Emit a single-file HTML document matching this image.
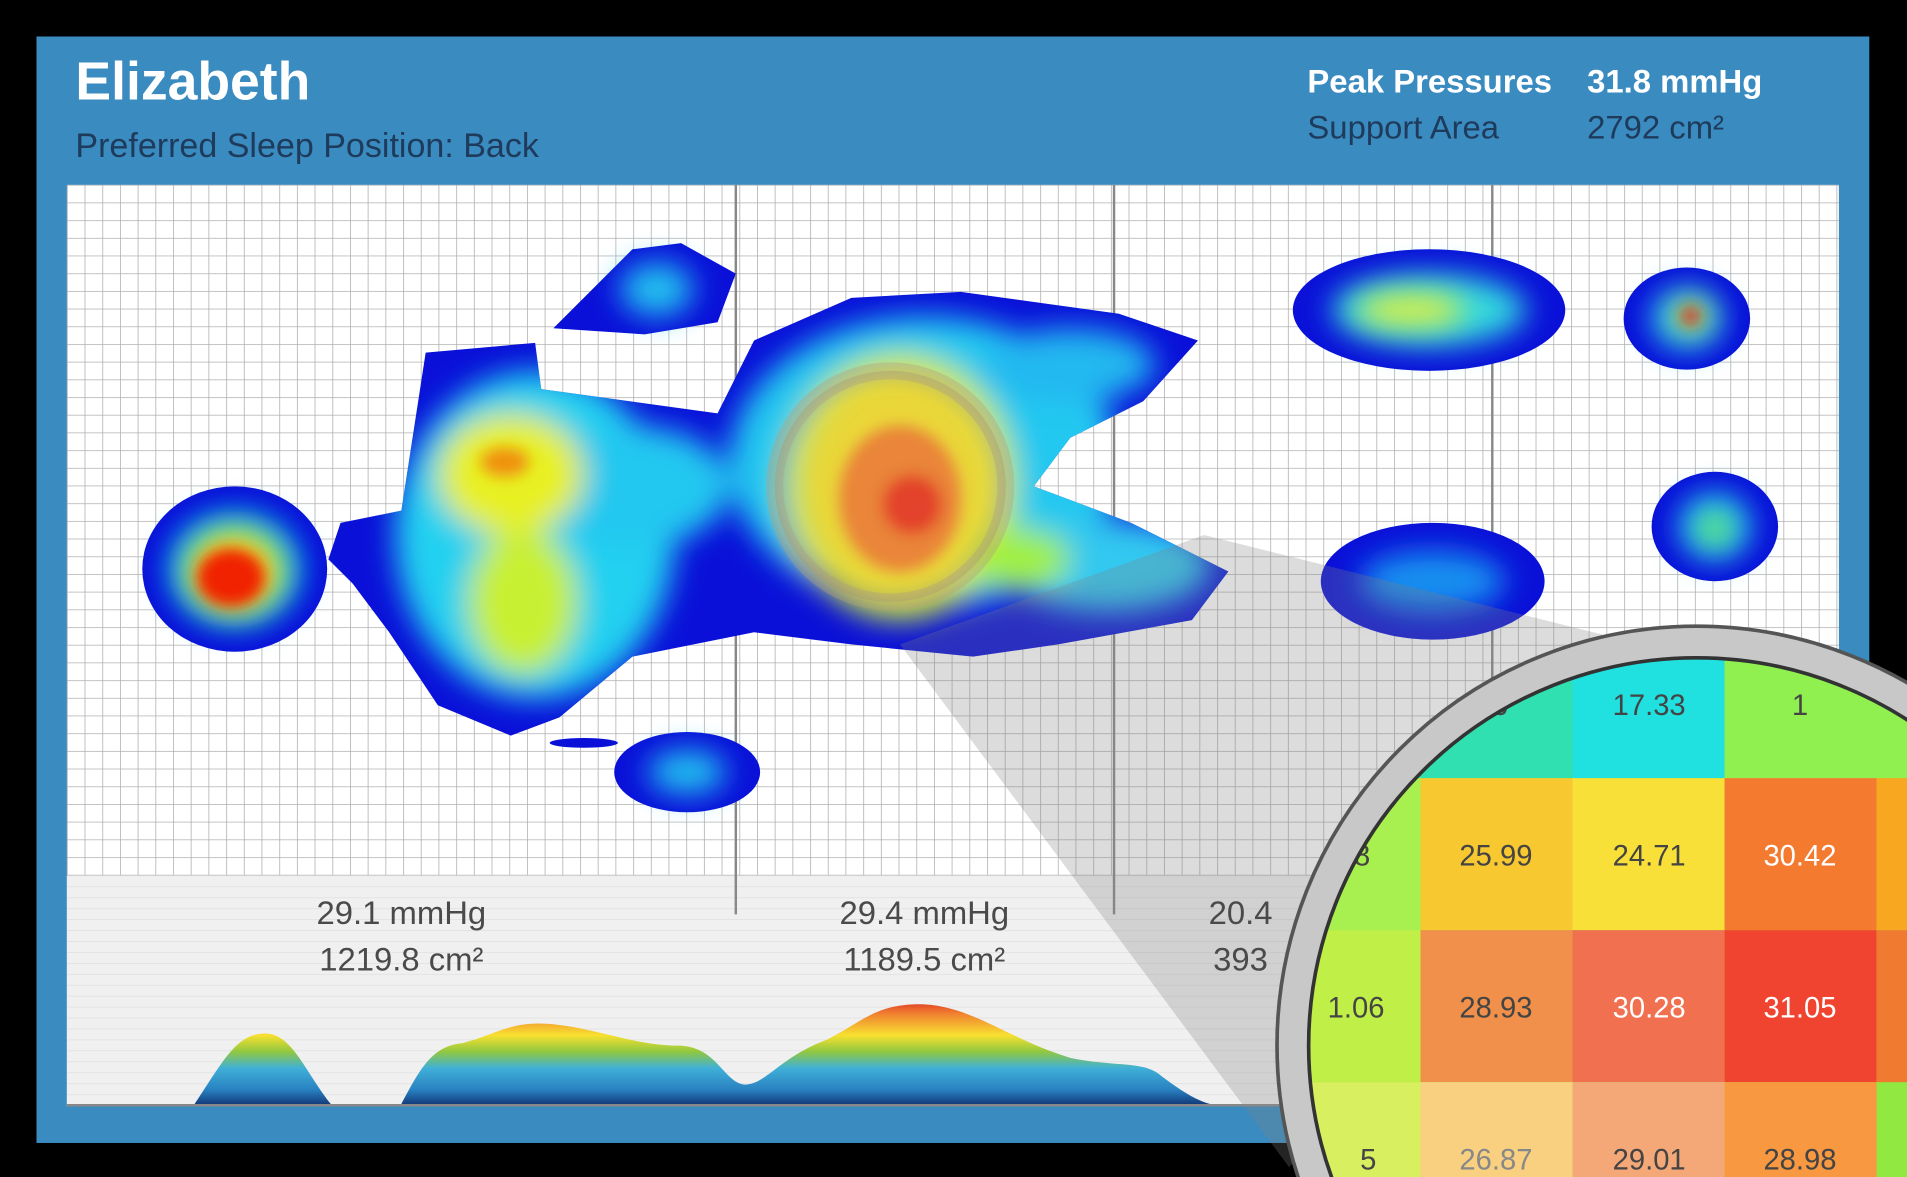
<!DOCTYPE html>
<html><head><meta charset="utf-8"><style>
html,body{margin:0;padding:0;background:#000;overflow:hidden;width:1907px;height:1177px}
svg{display:block}
text{font-family:"Liberation Sans",sans-serif}
</style></head><body>
<svg width="1907" height="1177" viewBox="0 0 1568 968" preserveAspectRatio="none" xmlns="http://www.w3.org/2000/svg">
<defs>
<pattern id="grid" x="55" y="152" width="14.55" height="14.55" patternUnits="userSpaceOnUse">
<rect width="14.55" height="14.55" fill="#fff"/>
<path d="M0 0H14.55M0 0V14.55" stroke="#b0b0b0" stroke-width="1.3" fill="none"/>
</pattern>
<pattern id="hl" x="0" y="720" width="10" height="9" patternUnits="userSpaceOnUse">
<rect width="10" height="9" fill="#f0f0f0"/><path d="M0 0H10" stroke="#dcdcdc" stroke-width="1"/>
</pattern>
<clipPath id="body"><path d="M280 430 L330 420 L350 290 L440 282 L445 320 L590 340 L620 280 L700 245 L790 240 L920 258 L985 280 L940 330 L880 360 L850 400 L930 430 L1010 470 L980 510 L870 530 L800 540 L700 530 L620 520 L520 540 L460 590 L420 605 L360 580 L320 520 L290 480 L270 460Z"/></clipPath>
<filter id="bl" x="-20%" y="-20%" width="140%" height="140%"><feGaussianBlur stdDeviation="12"/></filter>
<filter id="bl2"><feGaussianBlur stdDeviation="6"/></filter>
<linearGradient id="mtn" x1="0" y1="820" x2="0" y2="910" gradientUnits="userSpaceOnUse">
<stop offset="0" stop-color="#d82020"/><stop offset="0.15" stop-color="#f08030"/><stop offset="0.35" stop-color="#f8e030"/><stop offset="0.5" stop-color="#90c840"/><stop offset="0.65" stop-color="#40b0d8"/><stop offset="0.85" stop-color="#2880c0"/><stop offset="1" stop-color="#103070"/>
</linearGradient>
<clipPath id="mag"><circle cx="1395" cy="860" r="320"/></clipPath>
<radialGradient id="glass" cx="0.5" cy="0.5" r="0.5"><stop offset="0.8" stop-color="#c8a060" stop-opacity="0.15"/><stop offset="1" stop-color="#a09070" stop-opacity="0.4"/></radialGradient>
</defs>
<rect width="1568" height="968" fill="#000"/>
<rect x="30" y="30" width="1507" height="910" fill="#3a8bc0"/>
<rect x="55" y="152" width="1457" height="758" fill="url(#grid)"/>
<rect x="55" y="720" width="1457" height="190" fill="url(#hl)"/>
<g stroke="#888" stroke-width="2"><line x1="605" y1="152" x2="605" y2="752"/><line x1="916" y1="152" x2="916" y2="752"/><line x1="1227" y1="152" x2="1227" y2="720"/></g>

<g fill="#0a10d8">
<ellipse cx="193" cy="468" rx="76" ry="68"/>
<path d="M280 430 L330 420 L350 290 L440 282 L445 320 L590 340 L620 280 L700 245 L790 240 L920 258 L985 280 L940 330 L880 360 L850 400 L930 430 L1010 470 L980 510 L870 530 L800 540 L700 530 L620 520 L520 540 L460 590 L420 605 L360 580 L320 520 L290 480 L270 460Z"/>
<path d="M455 270 L520 205 L560 200 L605 225 L590 265 L530 275Z"/>
<ellipse cx="565" cy="635" rx="60" ry="33"/>
<ellipse cx="1175" cy="255" rx="112" ry="50"/>
<ellipse cx="1387" cy="262" rx="52" ry="42"/>
<ellipse cx="1178" cy="478" rx="92" ry="48"/>
<ellipse cx="1410" cy="433" rx="52" ry="45"/>
<ellipse cx="480" cy="611" rx="28" ry="4"/>
</g>
<g filter="url(#bl)">
<ellipse cx="193" cy="468" rx="55" ry="48" fill="#10c0f0"/>
<ellipse cx="1175" cy="255" rx="80" ry="30" fill="#30d8e0"/>
<ellipse cx="1178" cy="478" rx="60" ry="25" fill="#1890f0"/>
<ellipse cx="1410" cy="433" rx="30" ry="28" fill="#20c0f0"/>
<ellipse cx="1387" cy="262" rx="30" ry="26" fill="#20c0f0"/>
<ellipse cx="540" cy="238" rx="30" ry="22" fill="#20c0f0"/>
<ellipse cx="565" cy="635" rx="32" ry="18" fill="#20c0f0"/>
</g>
<g clip-path="url(#body)">
<g filter="url(#bl)">
<ellipse cx="440" cy="440" rx="115" ry="135" fill="#20d0f0"/>
<ellipse cx="520" cy="400" rx="80" ry="50" fill="#20c8f0"/>
<ellipse cx="760" cy="380" rx="160" ry="120" fill="#20c8f0"/>
<ellipse cx="880" cy="300" rx="70" ry="30" fill="#20b8f0"/>
<ellipse cx="910" cy="465" rx="85" ry="38" fill="#30c8f0"/>
<ellipse cx="420" cy="390" rx="60" ry="50" fill="#e8f020"/>
<ellipse cx="430" cy="495" rx="45" ry="60" fill="#c8f030"/>
<ellipse cx="740" cy="400" rx="95" ry="110" fill="#c0f040"/>
<ellipse cx="740" cy="400" rx="80" ry="95" fill="#f0e030"/>
<ellipse cx="840" cy="460" rx="40" ry="25" fill="#a0f040"/>
</g>
</g>
<g filter="url(#bl)">
<ellipse cx="193" cy="470" rx="40" ry="35" fill="#f0e020"/>
<ellipse cx="1160" cy="255" rx="45" ry="14" fill="#e0f040"/>
<ellipse cx="1390" cy="260" rx="14" ry="12" fill="#f0e020"/>
<ellipse cx="1410" cy="435" rx="12" ry="12" fill="#80f040"/>
</g>
<g filter="url(#bl2)">
<ellipse cx="190" cy="475" rx="28" ry="24" fill="#f02000"/>
<ellipse cx="415" cy="380" rx="20" ry="12" fill="#f09010"/>
<ellipse cx="740" cy="410" rx="50" ry="60" fill="#f08030"/>
<ellipse cx="750" cy="415" rx="25" ry="25" fill="#e83020"/>
<ellipse cx="1390" cy="260" rx="7" ry="7" fill="#e02010"/>
</g>
<circle cx="732" cy="400" r="95" fill="url(#glass)" stroke="#b0a080" stroke-opacity="0.4" stroke-width="14"/>

<polygon points="740,530 990,440 1390,540 1060,960" fill="#808080" fill-opacity="0.28"/>

<path d="M160 908 C185 870 195 850 218 850 C240 850 250 880 272 908Z" fill="url(#mtn)"/>
<path d="M330 908 C345 880 355 860 380 858 C410 850 420 840 450 842 C490 845 520 860 560 860 C590 862 595 890 612 892 C630 892 640 870 680 855 C710 840 720 825 760 826 C800 828 830 855 880 870 C920 878 940 872 955 885 C975 900 985 905 995 908Z" fill="url(#mtn)"/>
<line x1="55" y1="909" x2="1512" y2="909" stroke="#888" stroke-width="2"/>

<g fill="#4a4a4a" font-size="27" text-anchor="middle">
<text x="330" y="760">29.1 mmHg</text><text x="330" y="798">1219.8 cm²</text>
<text x="760" y="760">29.4 mmHg</text><text x="760" y="798">1189.5 cm²</text>
<text x="1020" y="760">20.4</text><text x="1020" y="798">393</text>
</g>

<g clip-path="url(#mag)">
<rect x="1060" y="520" width="520" height="460" fill="#90e840"/>
<rect x="1040" y="520" width="128" height="120" fill="#40e8a0"/>
<rect x="1168" y="520" width="125" height="120" fill="#30e0b0"/>
<rect x="1293" y="520" width="125" height="120" fill="#20e0e0"/>
<rect x="1418" y="520" width="150" height="120" fill="#90f050"/>
<rect x="1040" y="640" width="128" height="125" fill="#a8f050"/>
<rect x="1168" y="640" width="125" height="125" fill="#f8c830"/>
<rect x="1293" y="640" width="125" height="125" fill="#f8e038"/>
<rect x="1418" y="640" width="125" height="125" fill="#f47a30"/>
<rect x="1543" y="640" width="40" height="125" fill="#f8a820"/>
<rect x="1040" y="765" width="128" height="125" fill="#c0f048"/>
<rect x="1168" y="765" width="125" height="125" fill="#f0904a"/>
<rect x="1293" y="765" width="125" height="125" fill="#f07050"/>
<rect x="1418" y="765" width="125" height="125" fill="#f04430"/>
<rect x="1543" y="765" width="40" height="125" fill="#f07a30"/>
<rect x="1040" y="890" width="128" height="90" fill="#d8f060"/>
<rect x="1168" y="890" width="125" height="90" fill="#f8d080"/>
<rect x="1293" y="890" width="125" height="90" fill="#f4a878"/>
<rect x="1418" y="890" width="125" height="90" fill="#f89840"/>
<g font-size="24" fill="#444" text-anchor="middle">
<text x="1230" y="588">.6</text><text x="1356" y="588">17.33</text><text x="1480" y="588">1</text>
<text x="1120" y="712">8</text><text x="1230" y="712">25.99</text><text x="1356" y="712">24.71</text><text x="1480" y="712" fill="#fff">30.42</text>
<text x="1115" y="837">1.06</text><text x="1230" y="837">28.93</text><text x="1356" y="837" fill="#fff">30.28</text><text x="1480" y="837" fill="#fff">31.05</text>
<text x="1125" y="962">5</text><text x="1230" y="962" fill="#888">26.87</text><text x="1356" y="962">29.01</text><text x="1480" y="962">28.98</text>
</g>
</g>
<circle cx="1395" cy="860" r="332" fill="none" stroke="#c8c8c8" stroke-width="26"/>
<circle cx="1395" cy="860" r="345" fill="none" stroke="#555" stroke-width="3"/>
<circle cx="1395" cy="860" r="319" fill="none" stroke="#333" stroke-width="3"/>

<text x="62" y="82" font-size="44" font-weight="bold" fill="#fff">Elizabeth</text>
<text x="62" y="129" font-size="28" fill="#1f3b5c">Preferred Sleep Position: Back</text>
<text x="1075" y="76" font-size="27" font-weight="bold" fill="#fff">Peak Pressures</text>
<text x="1305" y="76" font-size="27" font-weight="bold" fill="#fff">31.8  mmHg</text>
<text x="1075" y="114" font-size="27" fill="#1f3b5c">Support Area</text>
<text x="1305" y="114" font-size="27" fill="#1f3b5c">2792  cm²</text>
</svg>
</body></html>
